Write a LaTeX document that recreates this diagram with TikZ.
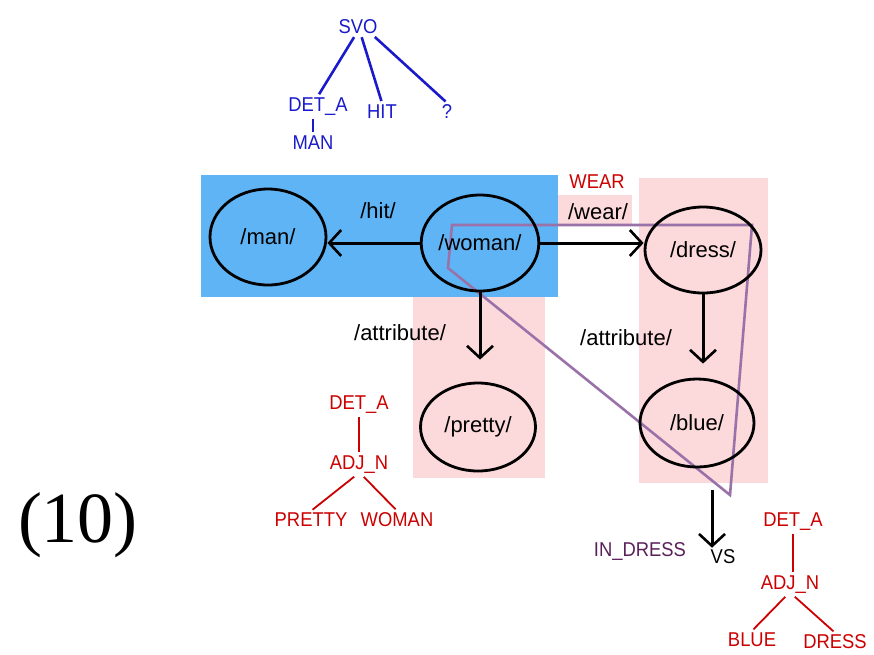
\documentclass[tikz,border=0pt]{standalone}
\usepackage{fontspec}
\setmainfont{Liberation Serif}
\newfontfamily\lblfont{Liberation Sans}
\usepackage{xcolor}
\usetikzlibrary{positioning,arrows.meta,shapes}

\definecolor{skyblue}{HTML}{5FB4F5}
\definecolor{rosepink}{HTML}{FCD9DA}
\definecolor{treeblue}{HTML}{1A1ACC}
\definecolor{treered}{HTML}{CC0000}
\definecolor{lilac}{HTML}{9A72AA}
\definecolor{plum}{HTML}{5A1F5A}

\newcommand{\slim}[1]{\scalebox{0.92}[1]{#1}}

\tikzset{
concept/.style={draw, ellipse, line width=2.8pt, inner sep=0pt, font=\lblfont\fontsize{22}{25}\selectfont},
rel/.style={-{Straight Barb[length=12pt,width=26pt,line width=2.6pt]}, line width=3pt},
lbl/.style={inner sep=1pt, font=\lblfont\fontsize{22}{25}\selectfont},
tw/.style={inner sep=2pt, font=\lblfont\fontsize{20}{24}\selectfont},
bluetree/.style={tw, text=treeblue},
redtree/.style={tw, text=treered},
twig/.style={line width=1.8pt, shorten <=1pt, shorten >=2pt}
}

\begin{document}
\begin{tikzpicture}[x=1pt,y=-1pt]
	\useasboundingbox (0,0) rectangle (874,654);

	% background boxes
	\fill[rosepink] (413,297) rectangle (545,478);
	\fill[rosepink] (639,178) rectangle (768,483);
	\fill[rosepink] (558,195) rectangle (632,225);
	\fill[skyblue] (201,175) rectangle (558,297);

	\draw[lilac, line width=2.6pt, line join=miter] (452,225) -- (752,225) -- (730,495) -- (448,268) -- cycle;

	% concepts
	\node[concept, minimum width=116pt, minimum height=96pt] (man) at (268,237) {/man/};
	\node[concept, minimum width=114pt, minimum height=96pt] (woman) at (480,243) {/woman/};
	\node[concept, minimum width=115pt, minimum height=88pt] (pretty) at (478,427) {/pretty/};
	\node[concept, minimum width=116pt, minimum height=86pt] (dress) at (703,250) {/dress/};
	\node[concept, minimum width=114pt, minimum height=88pt] (blue) at (697,423) {/blue/};

	\draw[rel] (woman.west) -- (woman.west -| man.east);
	\draw[rel] (woman.east) -- (woman.east -| dress.west);
	\draw[rel, shorten >=22pt] (woman.south) -- (woman.south |- pretty.north);
	\draw[rel, shorten >=14pt] (dress.south) -- (dress.south |- blue.north);

	\node[lbl] (hitlbl) at (378,211) {/hit/};
	\node[lbl] (wearlbl) at (598,212) {/wear/};
	\node[lbl] (attr1) at (400,333) {/attribute/};
	\node[lbl] (attr2) at (626,338) {/attribute/};
	\node[redtree] (wear) at (597,182) {\slim{WEAR}};

	\coordinate (drop) at (712,490);
	\node[tw] (vs) at (723,557) {\slim{VS}};
	\node[tw, text=plum] (indress) at (640,551) {\slim{IN\_DRESS}};
	\draw[rel] (drop) -- (drop |- vs.north);

	% SVO tree
	\node[bluetree] (svo) at (358,27) {\slim{SVO}};
	\node[bluetree] (detA) at (318,107) {\slim{DET\_A}};
	\node[bluetree] (hit) at (382,112) {\slim{HIT}};
	\node[bluetree] (quest) at (447,112) {\slim{?}};
	\node[bluetree] (man2) at (313,143) {\slim{MAN}};
	\draw[twig, treeblue, line width=2.6pt] (svo.250) -- (detA.north);
	\draw[twig, treeblue, line width=2.6pt] (svo.290) -- (hit.north);
	\draw[twig, treeblue, line width=2.6pt] (svo.330) -- (quest.north);
	\draw[twig, treeblue, line width=2.6pt] (detA.south -| man2.north) -- (man2.north);

	% pretty woman tree
	\node[redtree] (detB) at (359,405) {\slim{DET\_A}};
	\node[redtree] (adjB) at (359,465) {\slim{ADJ\_N}};
	\node[redtree] (prettyw) at (311,520) {\slim{PRETTY}};
	\node[redtree] (womanw) at (397,520) {\slim{WOMAN}};
	\draw[twig, treered] (detB) -- (adjB);
	\draw[twig, treered] (adjB.250) -- (prettyw.north);
	\draw[twig, treered] (adjB.290) -- (womanw.north);

	% blue dress tree
	\node[redtree] (detC) at (793,522) {\slim{DET\_A}};
	\node[redtree] (adjC) at (790,585) {\slim{ADJ\_N}};
	\node[redtree] (bluew) at (752,640) {\slim{BLUE}};
	\node[redtree] (dressw) at (835,642) {\slim{DRESS}};
	\draw[twig, treered] (detC) -- (detC |- adjC.north);
	\draw[twig, treered] (adjC.250) -- (bluew.north);
	\draw[twig, treered] (adjC.290) -- (dressw.north);

	\node[font=\fontsize{72}{80}\selectfont, inner sep=0pt] (num) at (78,525) {(10)};
\end{tikzpicture}
\end{document}
